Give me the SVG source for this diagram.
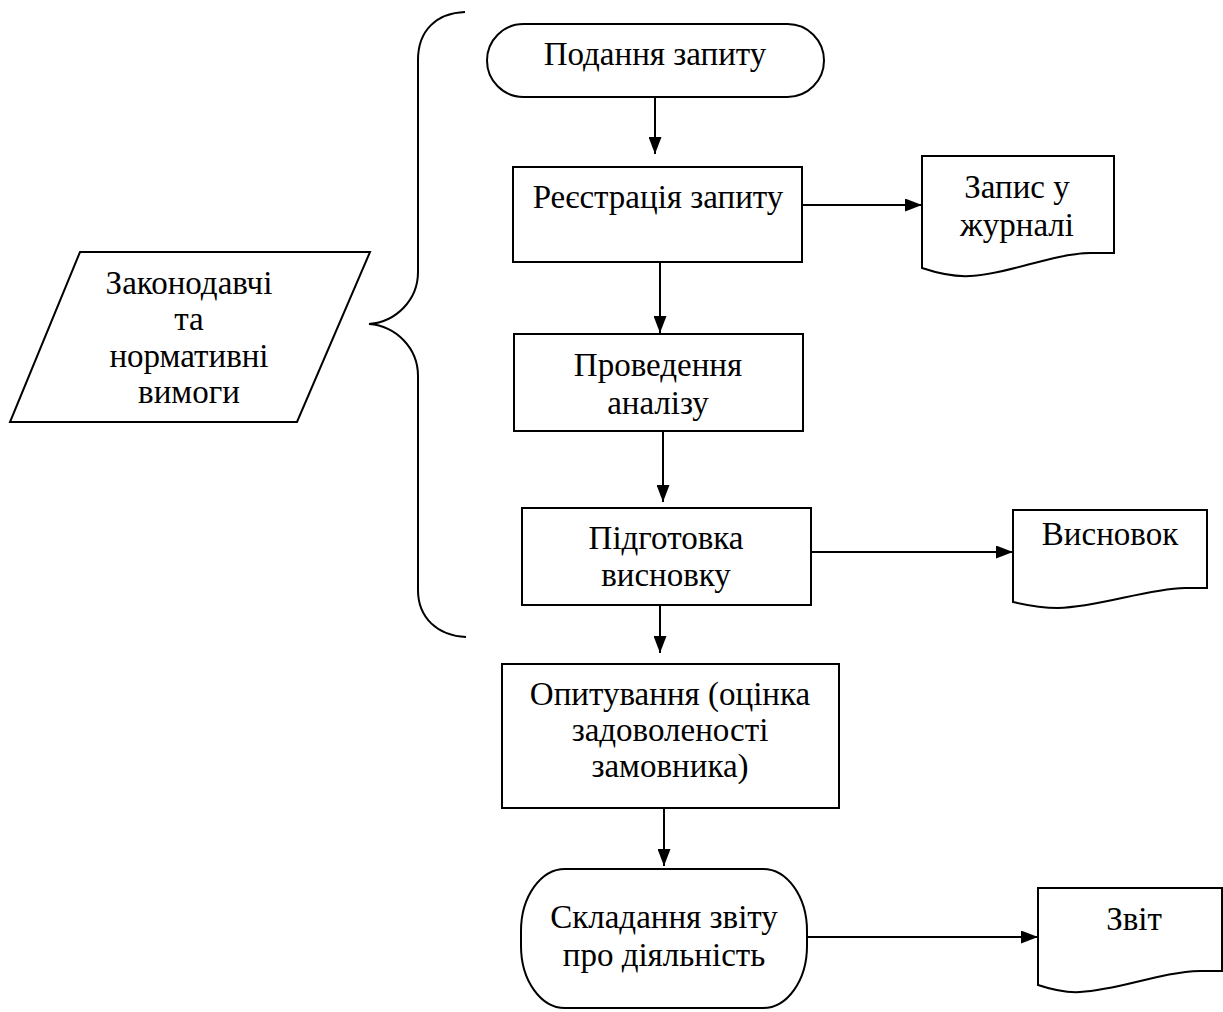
<svg xmlns="http://www.w3.org/2000/svg" width="1223" height="1012" viewBox="0 0 1223 1012">
  <defs>
    <style>
      .shape { fill: #ffffff; stroke: #000000; stroke-width: 2; }
      .line { fill: none; stroke: #000000; stroke-width: 2; }
      .label { font-family: "Liberation Serif", "Times New Roman", serif; font-size: 33px; fill: #000000; text-anchor: middle; }
    </style>
    <marker id="arrowLong" viewBox="0 0 17 13" refX="17" refY="6.5" markerWidth="17" markerHeight="13" markerUnits="userSpaceOnUse" orient="auto">
      <path d="M0,0 L17,6.5 L0,13 Z" fill="#000000"/>
    </marker>
  </defs>

  <rect width="1223" height="1012" fill="#ffffff"/>

  <!-- curly brace grouping the first four steps -->
  <g id="brace">
    <path class="line" d="M465,12 C437,13 418,30 418,60 L418,272 C418,300 396,322 369,324 C396,326 418,348 418,376 L418,590 C418,618 438,636 466,637"/>
  </g>

  <g id="requirements">
    <polygon class="shape" points="80,252 370,252 297,422 10,422"/>
    <text class="label" x="189" y="294">Законодавчі</text>
    <text class="label" x="189" y="330">та</text>
    <text class="label" x="189" y="367">нормативні</text>
    <text class="label" x="189" y="403">вимоги</text>
  </g>

  <g id="submit">
    <rect class="shape" x="487" y="24" width="337" height="73" rx="36.5" ry="36.5"/>
    <text class="label" x="655" y="65">Подання запиту</text>
  </g>

  <g id="register">
    <rect class="shape" x="513" y="167" width="289" height="95"/>
    <text class="label" x="658" y="208">Реєстрація запиту</text>
  </g>

  <g id="journal">
    <path class="shape" d="M922,156 L1114,156 L1114,253 L1090,253 C1050,254 1010,274 970,276 C952,277 937,273 922,268 Z"/>
    <text class="label" x="1017" y="198">Запис у</text>
    <text class="label" x="1017" y="236">журналі</text>
  </g>

  <g id="analysis">
    <rect class="shape" x="514" y="334" width="289" height="97"/>
    <text class="label" x="658" y="376">Проведення</text>
    <text class="label" x="658" y="414">аналізу</text>
  </g>

  <g id="prepare">
    <rect class="shape" x="522" y="508" width="289" height="97"/>
    <text class="label" x="666" y="549">Підготовка</text>
    <text class="label" x="666" y="586">висновку</text>
  </g>

  <g id="conclusion">
    <path class="shape" d="M1013,510 L1207,510 L1207,588 L1185,588 C1145,589 1100,607 1058,608 C1040,608 1026,605 1013,602 Z"/>
    <text class="label" x="1110" y="545">Висновок</text>
  </g>

  <g id="survey">
    <rect class="shape" x="502" y="664" width="337" height="144"/>
    <text class="label" x="670" y="705">Опитування (оцінка</text>
    <text class="label" x="670" y="741">задоволеності</text>
    <text class="label" x="670" y="777">замовника)</text>
  </g>

  <g id="activity-report">
    <rect class="shape" x="521" y="869" width="286" height="139" rx="44" ry="62"/>
    <text class="label" x="664" y="928">Складання звіту</text>
    <text class="label" x="664" y="966">про діяльність</text>
  </g>

  <g id="report">
    <path class="shape" d="M1038,888 L1222,888 L1222,971 L1200,971 C1160,972 1120,990 1080,992 C1064,993 1050,989 1038,985 Z"/>
    <text class="label" x="1134" y="930">Звіт</text>
  </g>

  <!-- connectors -->
  <g id="connectors">
    <line class="line" x1="655" y1="98" x2="655" y2="154" marker-end="url(#arrowLong)"/>
    <line class="line" x1="660" y1="262" x2="660" y2="333" marker-end="url(#arrowLong)"/>
    <line class="line" x1="663" y1="431" x2="663" y2="502" marker-end="url(#arrowLong)"/>
    <line class="line" x1="660" y1="606" x2="660" y2="653" marker-end="url(#arrowLong)"/>
    <line class="line" x1="664" y1="808" x2="664" y2="866" marker-end="url(#arrowLong)"/>
    <line class="line" x1="802" y1="205" x2="922" y2="205" marker-end="url(#arrowLong)"/>
    <line class="line" x1="811" y1="552" x2="1013" y2="552" marker-end="url(#arrowLong)"/>
    <line class="line" x1="807" y1="937" x2="1038" y2="937" marker-end="url(#arrowLong)"/>
  </g>
</svg>
